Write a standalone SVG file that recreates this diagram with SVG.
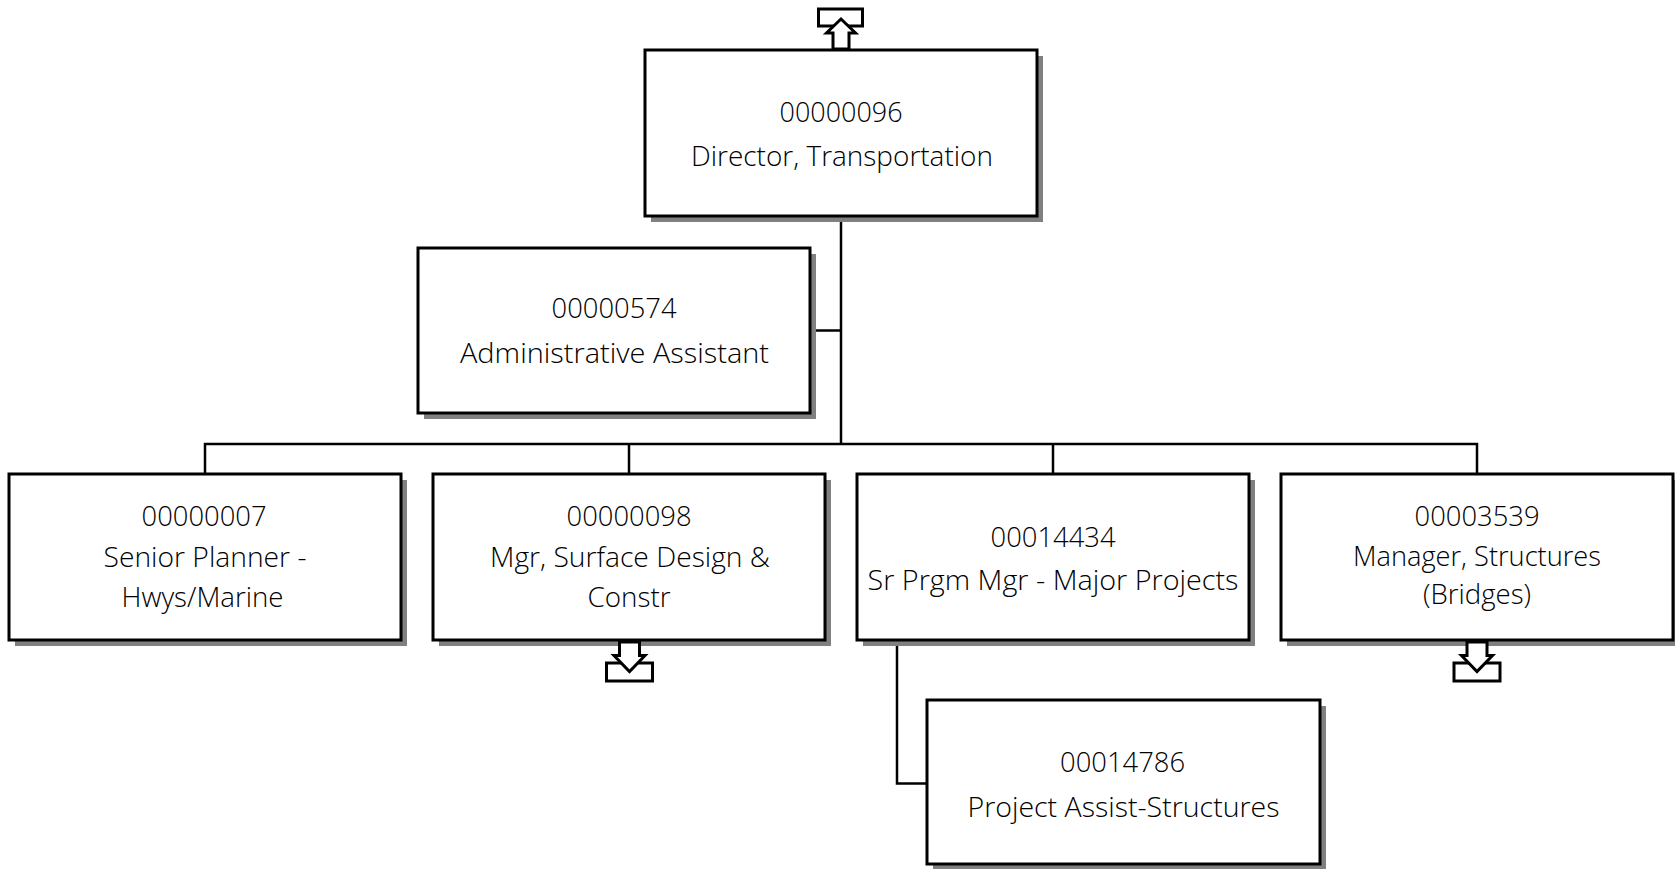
<svg xmlns="http://www.w3.org/2000/svg" width="1675" height="869" viewBox="0 0 1675 869">
<style>
.sh{fill:#808080;stroke:none}
.bx{fill:#fff;stroke:#000;stroke-width:3}
.t{font-family:"Open Sans","Liberation Sans",sans-serif;font-weight:300;font-size:28px;fill:#000;text-anchor:middle}
.c{fill:none;stroke:#000;stroke-width:2.5}
.ar{fill:#fff;stroke:#000;stroke-width:3;stroke-linejoin:miter}
</style>
<rect width="1675" height="869" fill="#fff"/>
<g id="connectors">
<line class="c" x1="841" y1="216" x2="841" y2="444"/>
<line class="c" x1="810" y1="330.5" x2="841" y2="330.5"/>
<polyline class="c" points="205,474 205,444 1477,444 1477,474"/>
<line class="c" x1="629" y1="444" x2="629" y2="474"/>
<line class="c" x1="1053" y1="444" x2="1053" y2="474"/>
<polyline class="c" points="897,640 897,783.5 927,783.5"/>
</g>
<g id="n00000096">
<rect class="sh" x="651" y="56" width="392" height="166"/>
<rect class="bx" x="645" y="50" width="392" height="166"/>
<text class="t" x="841" y="122" textLength="123" lengthAdjust="spacingAndGlyphs">00000096</text>
<text class="t" x="842" y="166" textLength="302" lengthAdjust="spacingAndGlyphs">Director, Transportation</text>
<rect class="ar" x="818.5" y="9" width="44" height="17"/>
<path class="ar" d="M833,49 V33 H826.5 L841,19 L855.5,33 H849 V49 Z"/>
</g>
<g id="n00000574">
<rect class="sh" x="424" y="254" width="392" height="165"/>
<rect class="bx" x="418" y="248" width="392" height="165"/>
<text class="t" x="614" y="318" textLength="125" lengthAdjust="spacingAndGlyphs">00000574</text>
<text class="t" x="614.5" y="363" textLength="309" lengthAdjust="spacingAndGlyphs">Administrative Assistant</text>
</g>
<g id="n00000007">
<rect class="sh" x="15" y="480" width="392" height="166"/>
<rect class="bx" x="9" y="474" width="392" height="166"/>
<text class="t" x="204" y="525.5" textLength="125" lengthAdjust="spacingAndGlyphs">00000007</text>
<text class="t" x="205" y="566.8" textLength="203" lengthAdjust="spacingAndGlyphs">Senior Planner -</text>
<text class="t" x="202.5" y="606.8" textLength="162" lengthAdjust="spacingAndGlyphs">Hwys/Marine</text>
</g>
<g id="n00000098">
<rect class="sh" x="439" y="480" width="392" height="166"/>
<rect class="bx" x="433" y="474" width="392" height="166"/>
<text class="t" x="629" y="525.5" textLength="125" lengthAdjust="spacingAndGlyphs">00000098</text>
<text class="t" x="630" y="566.8" textLength="280" lengthAdjust="spacingAndGlyphs">Mgr, Surface Design &amp;</text>
<text class="t" x="629" y="606.8" textLength="83" lengthAdjust="spacingAndGlyphs">Constr</text>
<rect class="ar" x="606.5" y="663" width="46" height="18"/>
<path class="ar" d="M619.5,642 V655.5 H614 L629.5,671.5 L645,655.5 H639.5 V642 Z"/>
</g>
<g id="n00014434">
<rect class="sh" x="863" y="480" width="392" height="166"/>
<rect class="bx" x="857" y="474" width="392" height="166"/>
<text class="t" x="1053" y="546.7" textLength="125" lengthAdjust="spacingAndGlyphs">00014434</text>
<text class="t" x="1053" y="590" textLength="371" lengthAdjust="spacingAndGlyphs">Sr Prgm Mgr - Major Projects</text>
</g>
<g id="n00003539">
<rect class="sh" x="1287" y="480" width="392" height="166"/>
<rect class="bx" x="1281" y="474" width="392" height="166"/>
<text class="t" x="1477" y="525.5" textLength="125" lengthAdjust="spacingAndGlyphs">00003539</text>
<text class="t" x="1477" y="566" textLength="248" lengthAdjust="spacingAndGlyphs">Manager, Structures</text>
<text class="t" x="1477" y="604" textLength="108" lengthAdjust="spacingAndGlyphs">(Bridges)</text>
<rect class="ar" x="1454" y="663" width="46" height="18"/>
<path class="ar" d="M1467,642 V655.5 H1461.5 L1477,671.5 L1492.5,655.5 H1487 V642 Z"/>
</g>
<g id="n00014786">
<rect class="sh" x="933" y="706" width="393" height="164"/>
<rect class="bx" x="927" y="700" width="393" height="164"/>
<text class="t" x="1122.5" y="771.7" textLength="125" lengthAdjust="spacingAndGlyphs">00014786</text>
<text class="t" x="1123.5" y="816.7" textLength="312" lengthAdjust="spacingAndGlyphs">Project Assist-Structures</text>
</g>
</svg>
